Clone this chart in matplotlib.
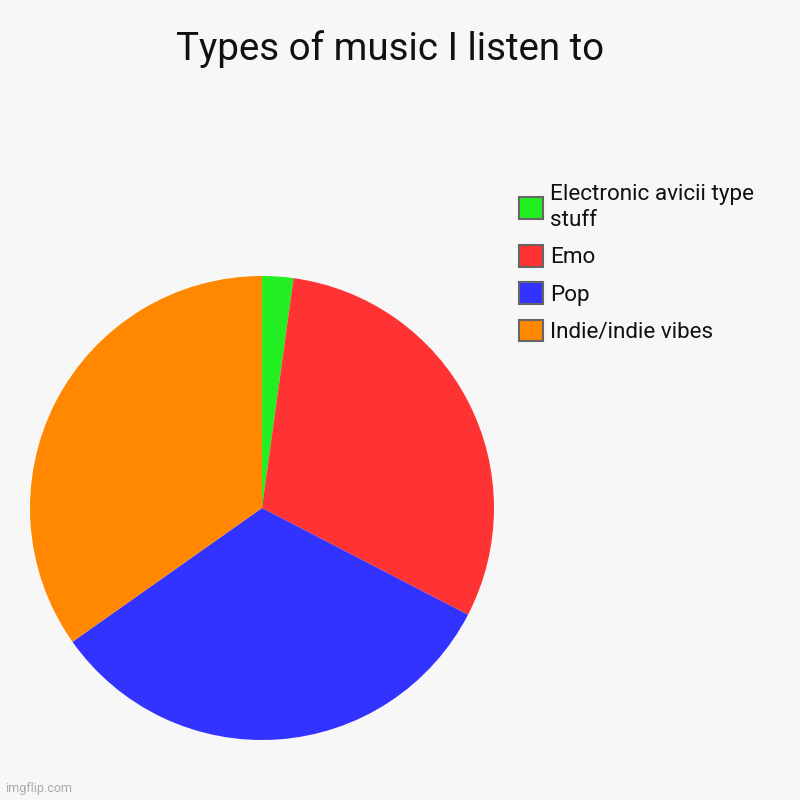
import matplotlib.pyplot as plt
from matplotlib.patches import Patch

plt.rcParams['font.family'] = ['Roboto', 'DejaVu Sans']

labels = ['Electronic avicii type\nstuff', 'Emo', 'Pop', 'Indie/indie vibes']
values = [1, 14, 15, 16]
colors = ['#22ee22', '#ff3333', '#3333ff', '#ff8800']
bg = '#f7f7f7'

fig = plt.figure(figsize=(8, 8), dpi=100, facecolor=bg)
fig.text(0.4875, 0.939, 'Types of music I listen to', ha='center', va='center',
         fontsize=27.7, color='#111111')

ax = fig.add_axes([30 / 800, 60 / 800, 464 / 800, 464 / 800])
ax.set_facecolor(bg)
ax.pie(values, colors=colors, startangle=90, counterclock=False,
       wedgeprops=dict(linewidth=0))
ax.set_xlim(-1, 1)
ax.set_ylim(-1, 1)
ax.set_aspect('equal')

handles = [Patch(facecolor=c, edgecolor='#666666', linewidth=1.5) for c in colors]
leg = fig.legend(handles, labels, loc='upper left', bbox_to_anchor=(0.637, 0.781),
                 frameon=False, fontsize=16.2, handlelength=1.1, handleheight=1.1,
                 handletextpad=0.3, labelspacing=0.62, borderaxespad=0)
for t in leg.get_texts():
    t.set_color('#111111')
    t.set_linespacing(1.3)

fig.text(0.007, 0.01, 'imgflip.com', fontsize=9, color='#aaaaaa')

fig.savefig('out.png', dpi=100, facecolor=bg)
